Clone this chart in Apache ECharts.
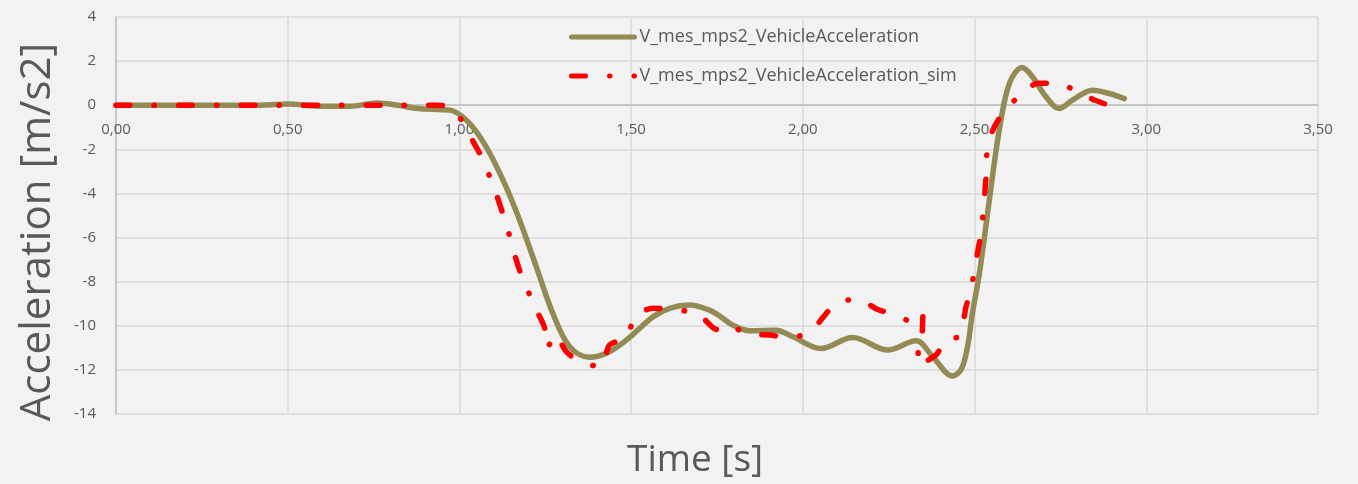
<!DOCTYPE html>
<html>
<head>
<meta charset="utf-8">
<script src="https://cdn.jsdelivr.net/npm/echarts@6/dist/echarts.min.js"></script>
<style>
  html, body { margin: 0; padding: 0; background: #f2f2f2; }
  #main { width: 1358px; height: 484px; }
</style>
</head>
<body>
<div id="main"></div>
<script>
const timeMeas = [0, 0.1, 0.2, 0.3, 0.4, 0.5, 0.6, 0.68, 0.76, 0.82, 0.88, 0.95, 0.98, 1.03, 1.078,
  1.127, 1.175, 1.224, 1.272, 1.321, 1.379, 1.428, 1.486, 1.563, 1.612, 1.67, 1.728, 1.757, 1.796,
  1.845, 1.922, 1.971, 2.053, 2.145, 2.247, 2.33, 2.378, 2.436, 2.462, 2.48, 2.494, 2.514, 2.543,
  2.567, 2.59, 2.61, 2.638, 2.669, 2.708, 2.746, 2.785, 2.843, 2.892, 2.936];
const accMeas = [0, 0, 0, 0, 0, 0.05, -0.05, -0.05, 0.1, 0.0, -0.15, -0.2, -0.25, -0.83, -1.89,
  -3.4, -5.2, -7.33, -9.44, -10.95, -11.43, -11.25, -10.65, -9.6, -9.21, -9.06, -9.29, -9.55, -9.97,
  -10.22, -10.2, -10.5, -11.03, -10.53, -11.1, -10.68, -11.4, -12.28, -11.95, -10.9, -9.4, -7.63, -4.3,
  -1.59, 0.38, 1.28, 1.71, 1.28, 0.38, -0.15, 0.23, 0.68, 0.53, 0.3];

// simulated acceleration
const timeSim = [0, 0.2, 0.4, 0.6, 0.8, 0.93, 0.975, 1.054, 1.074, 1.1, 1.138, 1.175, 1.222, 1.248,
  1.256, 1.279, 1.311, 1.355, 1.413, 1.437, 1.486, 1.512, 1.565, 1.625, 1.689, 1.74, 1.76, 1.782,
  1.843, 1.903, 1.956, 2.019, 2.06, 2.095, 2.158, 2.218, 2.271, 2.321, 2.35, 2.348, 2.354, 2.337,
  2.335, 2.36, 2.389, 2.418, 2.457, 2.475, 2.488, 2.498, 2.51, 2.519, 2.526, 2.533, 2.538, 2.557,
  2.589, 2.633, 2.686, 2.747, 2.8, 2.855, 2.91];
const accSim = [0, 0, 0, 0, 0, 0, -0.1, -2.04, -2.72, -3.7, -5.5, -7.48, -9.21, -10.1,
  -11.0, -10.4, -11.17, -11.65, -11.85, -10.87, -10.53, -9.59, -9.2, -9.3, -9.41, -10.1, -10.2, -10.0,
  -10.38, -10.42, -10.53, -10.3, -9.6, -9.0, -8.8, -9.26, -9.5, -9.83, -9.44, -10.2, -10.6, -11.0,
  -11.8, -11.6, -11.3, -10.6, -10.47, -9.14, -8.5, -7.63, -6.57, -5.8, -4.73, -3.3, -1.86, -1.0,
  -0.23, 0.45, 1.0, 0.98, 0.6, 0.2, -0.1];

const seriesNames = ["V_mes_mps2_VehicleAcceleration", "V_mes_mps2_VehicleAcceleration_sim"];
const xTicks = { min: 0, max: 3.5, step: 0.5 };
const yTicks = { min: -14, max: 4, step: 2 };

const chart = echarts.init(document.getElementById("main"));

const fontFamily = "'Open Sans', 'Noto Sans', sans-serif";
const labelStyle = { fontFamily, fontSize: 15, color: "#595959" };

const grid = { left: 116, right: 40, top: 17, bottom: 70 };
// move the x axis up to y = 0 (labels sit under the zero line)
const plotHeight = 484 - grid.top - grid.bottom;
const zeroOffset = -plotHeight * (0 - yTicks.min) / (yTicks.max - yTicks.min);

const options = {
  animation: false,
  backgroundColor: "#f2f2f2",
  grid,
  title: {
    text: "Time [s]",
    left: 627,
    top: 442,
    padding: 0,
    textStyle: { fontFamily, fontSize: 37, fontWeight: "normal", color: "#595959" },
  },
  graphic: [
    {
      type: "text",
      x: 38,
      y: 232,
      rotation: Math.PI / 2,
      style: {
        text: "Acceleration [m/s2]",
        font: "42px 'Open Sans', 'Noto Sans', sans-serif",
        fill: "#595959",
        align: "center",
        verticalAlign: "middle",
      },
    },
  ],
  legend: {
    orient: "vertical",
    left: 564,
    top: 23,
    itemWidth: 63,
    itemHeight: 14,
    itemGap: 21,
    itemStyle: { opacity: 0 },
    lineStyle: { width: 5, cap: "round" },
    textStyle: { fontFamily, fontSize: 18, color: "#595959" },
    data: seriesNames,
  },
  xAxis: {
    type: "value",
    min: xTicks.min,
    max: xTicks.max,
    interval: xTicks.step,
    offset: zeroOffset,
    axisLine: { onZero: false, lineStyle: { color: "#bfbfbf", width: 1.5 } },
    axisTick: { show: false },
    axisLabel: {
      ...labelStyle,
      margin: 17,
      showMaxLabel: true,
      formatter: (v) => v.toFixed(2).replace(".", ","),
    },
    splitLine: { show: true, lineStyle: { color: "#d9d9d9", width: 1.5 } },
  },
  yAxis: {
    type: "value",
    min: yTicks.min,
    max: yTicks.max,
    interval: yTicks.step,
    axisLine: { show: true, lineStyle: { color: "#bfbfbf", width: 1.5 } },
    axisTick: { show: false },
    axisLabel: { ...labelStyle, margin: 20 },
    splitLine: { show: true, lineStyle: { color: "#d9d9d9", width: 1.5 } },
  },
  series: [
    {
      name: seriesNames[0],
      type: "line",
      data: timeMeas.map((t, i) => [t, accMeas[i]]),
      symbol: "none",
      smooth: 0.35,
      lineStyle: { color: "#948a54", width: 5.5, cap: "round" },
      itemStyle: { color: "#948a54" },
      z: 2,
    },
    {
      name: seriesNames[1],
      type: "line",
      data: timeSim.map((t, i) => [t, accSim[i]]),
      symbol: "none",
      smooth: 0.3,
      lineStyle: { color: "#ff0000", width: 5.5, type: [14, 24, 0.5, 24], cap: "round" },
      itemStyle: { color: "#ff0000" },
      z: 3,
    },
  ],
};

chart.setOption(options);
</script>
</body>
</html>
